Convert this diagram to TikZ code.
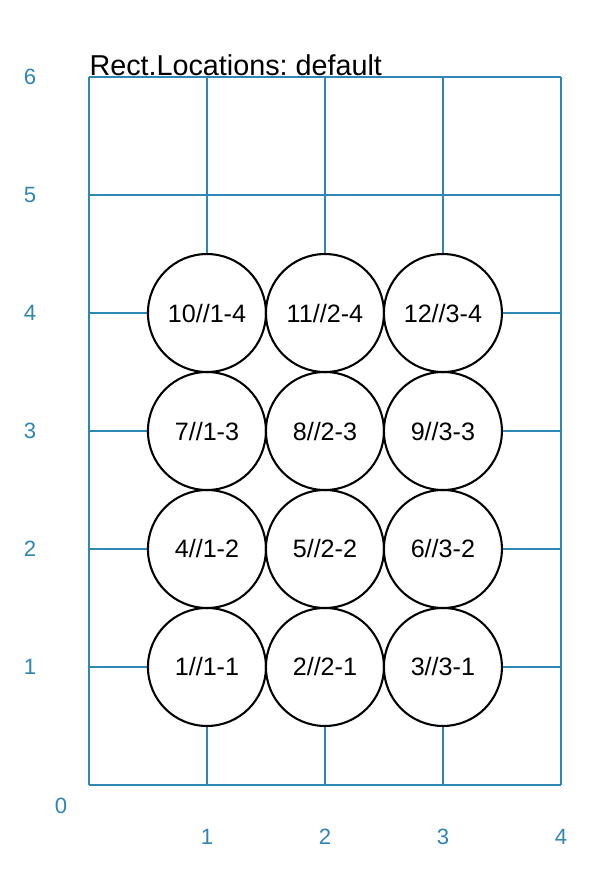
\documentclass[tikz,border=0pt]{standalone}
\usepackage{fontspec}
\setmainfont{Liberation Sans}
\usepackage{tikz}
\usetikzlibrary{positioning}
\definecolor{gridblue}{RGB}{46,134,180}

\begin{document}
\begin{tikzpicture}[
  x=1.5cm, y=1.5cm,
  gridline/.style={draw=gridblue, line width=0.75pt, line join=round},
  tick/.style={text=gridblue, font=\fontsize{8}{9}\selectfont, inner sep=0pt},
  well/.style={draw, circle, fill=white, line width=0.75pt, minimum size=1.5cm, inner sep=0pt, font=\fontsize{9.1}{11}\selectfont},
  ttl/.style={font=\fontsize{10.4}{12}\selectfont\frenchspacing, inner sep=0pt},
]
  \useasboundingbox (-0.754,-0.763) rectangle (4.458,6.653);

  % grid
  \foreach \i in {0,...,4} \draw[gridline] (\i,0) -- (\i,6);
  \foreach \j in {0,...,6} \draw[gridline] (0,\j) -- (4,\j);

  % axis numbers
  \node[tick] (o) at (-0.237,-0.178) {0};
  \foreach \i in {1,...,4} \node[tick] (xt\i) at (\i,-0.44) {\i};
  \foreach \j in {1,...,6} \node[tick] (yt\j) at (-0.5,\j) {\j};

  \node[ttl, anchor=base west] (title) at (0,6.01) {Rect.Locations: default};

  % wells
  \foreach \r in {1,...,4} {
    \foreach \c in {1,...,3} {
      \pgfmathtruncatemacro{\n}{(\r-1)*3+\c}
      \node[well] (w\n) at (\c,\r) {\n//\c-\r};
    }
  }
\end{tikzpicture}
\end{document}
